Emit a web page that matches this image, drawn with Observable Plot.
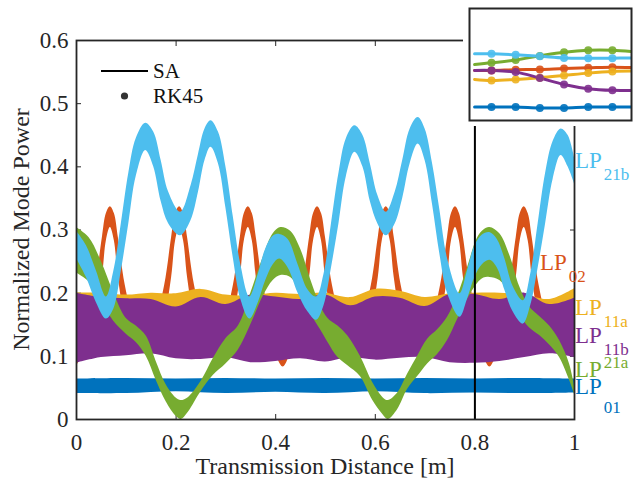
<!DOCTYPE html>
<html><head><meta charset="utf-8">
<script src="https://cdn.jsdelivr.net/npm/d3@7"></script>
<script src="https://cdn.jsdelivr.net/npm/@observablehq/plot@0.6"></script>
<style>
body{margin:0;background:#fff;}
#wrap{position:relative;width:639px;height:480px;}
#inset{position:absolute;left:463px;top:0;}
#main{position:absolute;left:0;top:0;}
#wrap svg text{font-family:"Liberation Serif","Times New Roman",serif;}
</style></head><body>
<div id="wrap"><div id="main"></div><div id="inset"></div></div>
<script>
// ---------- data ----------
const xTicks = [0, 0.2, 0.4, 0.6, 0.8, 1];
const yTicks = [0, 0.1, 0.2, 0.3, 0.4, 0.5, 0.6];
const markerX = 0.8;

const lp01X  = [0, 0.1, 0.2, 0.3, 0.4, 0.5, 0.6, 0.7, 0.8, 0.9, 1];
const lp01Hi = [0.064,0.065,0.064,0.065,0.064,0.065,0.064,0.065,0.064,0.065,0.064];
const lp01Lo = [0.041,0.041,0.044,0.041,0.043,0.041,0.044,0.041,0.042,0.041,0.042];

const lp02X = [0.000,
 0.018,0.038,0.052,0.060,0.068,0.076,0.084,0.098,0.118, 0.138,
 0.157,0.177,0.191,0.199,0.207,0.215,0.223,0.237,0.257, 0.276,
 0.295,0.315,0.329,0.337,0.345,0.353,0.361,0.375,0.395, 0.415,
 0.434,0.454,0.468,0.476,0.484,0.492,0.500,0.514,0.534, 0.553,
 0.572,0.592,0.606,0.614,0.622,0.630,0.638,0.652,0.672, 0.691,
 0.711,0.731,0.745,0.753,0.761,0.769,0.777,0.791,0.811, 0.830,
 0.849,0.869,0.883,0.891,0.899,0.907,0.915,0.929,0.949, 0.969,
 1.000];
const lp02Hi = [0.100,
 0.150,0.212,0.288,0.326,0.337,0.326,0.288,0.212,0.150, 0.125,
 0.150,0.212,0.288,0.326,0.337,0.326,0.288,0.212,0.150, 0.125,
 0.150,0.212,0.288,0.326,0.337,0.326,0.288,0.212,0.150, 0.100,
 0.150,0.212,0.288,0.326,0.337,0.326,0.288,0.212,0.150, 0.125,
 0.150,0.212,0.288,0.326,0.337,0.326,0.288,0.212,0.150, 0.125,
 0.150,0.212,0.288,0.326,0.337,0.326,0.288,0.212,0.150, 0.100,
 0.150,0.212,0.288,0.326,0.337,0.326,0.288,0.212,0.150, 0.125,
 0.190];
const lp02Lo = [0.083,
 0.115,0.160,0.225,0.283,0.304,0.283,0.225,0.160,0.115, 0.110,
 0.115,0.160,0.225,0.283,0.304,0.283,0.225,0.160,0.115, 0.110,
 0.115,0.160,0.225,0.283,0.304,0.283,0.225,0.160,0.115, 0.083,
 0.115,0.160,0.225,0.283,0.304,0.283,0.225,0.160,0.115, 0.110,
 0.115,0.160,0.225,0.283,0.304,0.283,0.225,0.160,0.115, 0.110,
 0.115,0.160,0.225,0.283,0.304,0.283,0.225,0.160,0.115, 0.083,
 0.115,0.160,0.225,0.283,0.304,0.283,0.225,0.160,0.115, 0.110,
 0.155];

const lp11X  = [0,0.05,0.1,0.15,0.2,0.25,0.3,0.35,0.4,0.45,0.5,0.55,0.6,0.65,0.7,0.75,0.8,0.85,0.9,0.95,1];
const lp11aHi = [0.200,0.200,0.197,0.200,0.199,0.206,0.197,0.196,0.200,0.198,0.200,0.193,0.206,0.203,0.193,0.199,0.200,0.200,0.197,0.190,0.207];
const lp11aLo = [0.170,0.170,0.170,0.170,0.170,0.170,0.170,0.170,0.170,0.170,0.170,0.170,0.170,0.170,0.170,0.170,0.170,0.170,0.170,0.170,0.170];
const lp11bHi = [0.200,0.193,0.191,0.190,0.178,0.193,0.182,0.197,0.194,0.190,0.197,0.180,0.194,0.192,0.179,0.198,0.198,0.190,0.200,0.182,0.192];
const lp11bLo = [0.089,0.098,0.101,0.104,0.096,0.095,0.098,0.090,0.092,0.096,0.091,0.098,0.094,0.097,0.098,0.090,0.089,0.092,0.098,0.104,0.098];

const lp21aX  = [0,0.025,0.05,0.075,0.1,0.12,0.14,0.16,0.18,0.2,0.21,0.225,0.25,0.275,0.3,0.325,0.35,0.375,0.395,0.41,0.43,0.45,0.47,0.49,0.505,0.525,0.545,0.57,0.595,0.615,0.626,0.645,0.665,0.685,0.705,0.725,0.745,0.765,0.785,0.805,0.818,0.83,0.85,0.87,0.89,0.91,0.93,0.95,0.97,0.99,1];
const lp21aHi = [0.304,0.288,0.250,0.200,0.160,0.148,0.132,0.092,0.055,0.034,0.030,0.035,0.060,0.097,0.128,0.148,0.200,0.257,0.294,0.304,0.298,0.270,0.222,0.180,0.160,0.148,0.132,0.100,0.058,0.035,0.030,0.042,0.072,0.100,0.127,0.142,0.162,0.195,0.240,0.287,0.300,0.304,0.294,0.260,0.210,0.178,0.163,0.148,0.125,0.088,0.053];
const lp21aLo = [0.232,0.218,0.188,0.155,0.135,0.122,0.100,0.062,0.028,0.005,0.000,0.012,0.044,0.070,0.088,0.110,0.150,0.195,0.220,0.228,0.225,0.200,0.168,0.142,0.122,0.098,0.085,0.068,0.030,0.008,0.000,0.016,0.048,0.068,0.088,0.103,0.125,0.158,0.190,0.215,0.224,0.225,0.220,0.198,0.165,0.145,0.133,0.118,0.098,0.062,0.040];

const lp21bX  = [0,0.02,0.04,0.06,0.075,0.09,0.105,0.12,0.139,0.155,0.17,0.185,0.209,0.23,0.245,0.258,0.27,0.285,0.3,0.315,0.33,0.348,0.365,0.38,0.395,0.408,0.425,0.445,0.465,0.482,0.497,0.512,0.527,0.542,0.559,0.575,0.59,0.605,0.622,0.64,0.655,0.67,0.686,0.7,0.715,0.73,0.745,0.77,0.785,0.8,0.815,0.83,0.845,0.86,0.877,0.897,0.912,0.927,0.942,0.957,0.973,0.987,1];
const lp21bHi = [0.298,0.275,0.235,0.194,0.235,0.310,0.390,0.445,0.469,0.455,0.410,0.360,0.328,0.370,0.420,0.460,0.473,0.455,0.400,0.320,0.245,0.194,0.230,0.270,0.290,0.293,0.285,0.245,0.205,0.194,0.230,0.310,0.390,0.445,0.465,0.450,0.405,0.355,0.328,0.360,0.410,0.460,0.478,0.460,0.405,0.330,0.255,0.199,0.235,0.275,0.292,0.296,0.285,0.255,0.210,0.188,0.230,0.310,0.390,0.440,0.460,0.450,0.415];
const lp21bLo = [0.255,0.225,0.185,0.159,0.175,0.235,0.310,0.385,0.426,0.400,0.345,0.310,0.291,0.315,0.360,0.410,0.431,0.405,0.335,0.255,0.190,0.159,0.185,0.220,0.245,0.254,0.240,0.200,0.170,0.157,0.180,0.240,0.310,0.385,0.423,0.400,0.345,0.310,0.291,0.310,0.350,0.405,0.436,0.410,0.340,0.260,0.200,0.162,0.190,0.225,0.245,0.252,0.240,0.205,0.170,0.151,0.180,0.240,0.310,0.380,0.418,0.400,0.373];

// inset (zoomed view, relative units)
const insetX  = [0.3, 1, 2, 3, 4, 5, 6, 6.8];
const inset01  = [0.121,0.121,0.121,0.112,0.112,0.121,0.121,0.121];
const inset02  = [0.447,0.447,0.453,0.456,0.464,0.470,0.476,0.473];
const inset11a = [0.367,0.358,0.367,0.382,0.402,0.423,0.438,0.441];
const inset11b = [0.447,0.447,0.432,0.379,0.322,0.284,0.269,0.269];
const inset21a = [0.500,0.515,0.541,0.577,0.609,0.627,0.627,0.615];
const inset21b = [0.595,0.595,0.586,0.574,0.559,0.556,0.556,0.559];

const colors = {LP01:"#0072BD", LP02:"#D95319", LP11a:"#EDB120", LP11b:"#7E2F8E", LP21a:"#77AC30", LP21b:"#4DBEEE"};

// ---------- build ----------
const band = (xs, lo, hi) => xs.map((x, i) => ({x, lo: lo[i], hi: hi[i]}));
const series = [
  ["LP01", band(lp01X, lp01Lo, lp01Hi)],
  ["LP02", band(lp02X, lp02Lo, lp02Hi)],
  ["LP11a", band(lp11X, lp11aLo, lp11aHi)],
  ["LP11b", band(lp11X, lp11bLo, lp11bHi)],
  ["LP21a", band(lp21aX, lp21aLo, lp21aHi)],
  ["LP21b", band(lp21bX, lp21bLo, lp21bHi)]
];
const FONT = '"Liberation Serif", "Times New Roman", serif';

const main = Plot.plot({
  width: 639, height: 480,
  marginLeft: 76, marginRight: 65, marginTop: 40, marginBottom: 61,
  x: {domain: [0, 1]},
  y: {domain: [0, 0.6]},
  style: {fontFamily: FONT, background: "white", color: "#262626"},
  marks: [
    Plot.axisX({anchor: "bottom", ticks: xTicks, tickSize: -5, tickPadding: 19, fontSize: 23, label: null, tickFormat: d3.format("")}),
    Plot.axisX({anchor: "top", ticks: xTicks, tickSize: -5, tickFormat: () => "", label: null}),
    Plot.axisY({anchor: "left", ticks: yTicks, tickSize: -5, tickPadding: 13, fontSize: 23, label: null, tickFormat: d3.format("")}),
    Plot.axisY({anchor: "right", ticks: yTicks, tickSize: -5, tickFormat: () => "", label: null}),
    ...series.map(([k, d]) => Plot.areaY(d, {x: "x", y1: "lo", y2: "hi", fill: colors[k], curve: "catmull-rom", clip: true})),
    Plot.ruleX([markerX], {stroke: "black", strokeWidth: 2}),
    Plot.frame({stroke: "#262626", strokeWidth: 1.8})
  ]
});
document.getElementById("main").appendChild(main);

const svg = d3.select(main);
const txt = (x, y, size, fill, s, anchor = "start") =>
  svg.append("text").attr("x", x).attr("y", y).attr("font-size", size).attr("font-family", FONT)
     .attr("fill", fill).attr("text-anchor", anchor).text(s);
// axis titles
txt(325, 474, 24, "#262626", "Transmission Distance [m]", "middle");
svg.append("text").attr("transform", "translate(29,229.5) rotate(-90)").attr("text-anchor", "middle")
  .attr("font-size", 24).attr("font-family", FONT).attr("fill", "#262626").text("Normalized Mode Power");
// legend
svg.append("line").attr("x1", 101).attr("x2", 148).attr("y1", 71).attr("y2", 71).attr("stroke", "black").attr("stroke-width", 2);
txt(153, 78, 21, "#111", "SA");
svg.append("circle").attr("cx", 124.5).attr("cy", 96).attr("r", 3.6).attr("fill", "#333");
txt(153, 103, 21, "#111", "RK45");
// mode labels
const labels = [
  ["LP21b", "21b", 575, 168, 12],
  ["LP02", "02", 540, 270, 12],
  ["LP11a", "11a", 575, 315, 12],
  ["LP11b", "11b", 575, 343, 12],
  ["LP21a", "21a", 575, 377, -9],
  ["LP01", "01", 575, 394, 19]
];
for (const [k, sub, x, y, dy] of labels) {
  const t = svg.append("text").attr("x", x).attr("y", y).attr("font-family", FONT)
    .attr("text-anchor", "start").attr("fill", colors[k]);
  t.append("tspan").attr("font-size", 23).text("LP");
  t.append("tspan").attr("font-size", 17).attr("dx", 2).attr("dy", dy).text(sub);
}

// inset
const insetSeries = [["LP01", inset01], ["LP02", inset02], ["LP11a", inset11a], ["LP11b", inset11b], ["LP21a", inset21a], ["LP21b", inset21b]];
const inset = Plot.plot({
  width: 176, height: 126,
  marginLeft: 6, marginRight: 8, marginTop: 8, marginBottom: 6,
  x: {domain: [0.09, 6.79]}, y: {domain: [0, 1]}, axis: null,
  style: {background: "white"},
  marks: [
    ...insetSeries.map(([k, v]) => Plot.line(insetX.map((x, i) => ({x, y: v[i]})), {x: "x", y: "y", stroke: colors[k], strokeWidth: 3, curve: "catmull-rom", clip: true})),
    ...insetSeries.map(([k, v]) => Plot.dot(insetX.slice(1, 7).map((x, i) => ({x, y: v[i + 1]})), {x: "x", y: "y", fill: colors[k], r: 4, fillOpacity: 0.9})),
    Plot.frame({stroke: "#262626", strokeWidth: 2})
  ]
});
document.getElementById("inset").appendChild(inset);
</script>
</body></html>
